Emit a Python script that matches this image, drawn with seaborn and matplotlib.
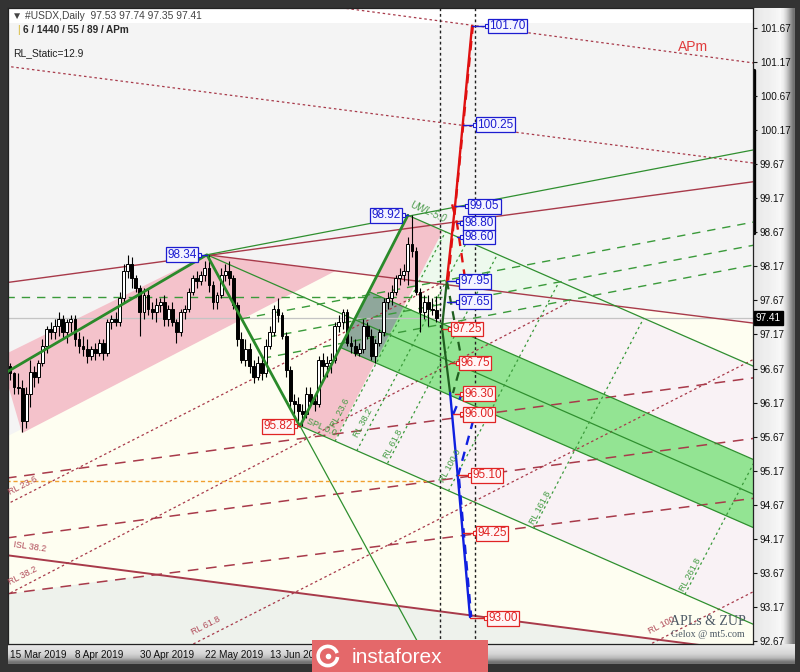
import numpy as np
import pandas as pd
import seaborn as sns
import matplotlib.pyplot as plt
import matplotlib.transforms as mtransforms
from matplotlib.patches import Polygon, Arc

sns.set_style('white')
plt.rcParams['font.family'] = ['Liberation Sans', 'DejaVu Sans']

# ---- #USDX daily candles, bar 0 = 15 Mar 2019 ... bar 105 = 9 Aug 2019
opens = [96.70, 96.60, 96.40, 96.38, 95.90, 96.30, 96.62, 96.55, 96.75, 97.00,
         97.25, 97.20, 97.30, 97.40, 97.20, 97.35, 97.40, 97.10, 97.00, 96.95,
         96.85, 96.95, 96.90, 97.05, 96.90, 97.35, 97.40, 97.35, 97.70, 98.10,
         98.20, 98.00, 97.85, 97.50, 97.75, 97.55, 97.50, 97.60, 97.65, 97.40,
         97.55, 97.35, 97.20, 97.50, 97.55, 97.80, 98.00, 97.95, 98.05, 98.15,
         97.90, 97.65, 97.75, 98.05, 98.10, 98.00, 97.60, 97.10, 96.80, 96.95,
         96.70, 96.55, 96.75, 96.60, 97.00, 97.20, 97.55, 97.45, 97.15, 96.65,
         96.20, 96.15, 96.05, 96.00, 96.30, 96.20, 96.15, 96.80, 96.70, 96.75,
         96.80, 97.30, 97.35, 97.50, 97.05, 97.00, 96.90, 96.95, 97.30, 97.15,
         96.85, 97.05, 97.20, 97.65, 97.70, 97.80, 98.00, 98.05, 98.10, 98.50,
         98.40, 97.80, 97.50, 97.65, 97.55, 97.53]
highs = [96.75, 96.62, 96.60, 96.50, 96.40, 96.80, 96.70, 96.80, 97.10, 97.30,
         97.35, 97.40, 97.50, 97.45, 97.40, 97.45, 97.45, 97.20, 97.15, 97.10,
         97.00, 97.05, 97.10, 97.10, 97.40, 97.45, 97.50, 97.80, 98.20, 98.33,
         98.30, 98.05, 97.90, 97.85, 97.85, 97.65, 97.70, 97.70, 97.75, 97.60,
         97.65, 97.40, 97.55, 97.60, 97.85, 98.05, 98.10, 98.10, 98.25, 98.34,
         97.95, 97.80, 98.15, 98.20, 98.25, 98.05, 97.65, 97.20, 97.10, 97.05,
         96.80, 96.85, 96.85, 97.10, 97.30, 97.60, 97.70, 97.50, 97.20, 96.70,
         96.30, 96.25, 96.15, 96.40, 96.40, 96.30, 96.85, 96.90, 96.85, 96.90,
         97.35, 97.45, 97.55, 97.55, 97.15, 97.10, 97.05, 97.40, 97.35, 97.25,
         97.10, 97.25, 97.70, 97.80, 97.90, 98.05, 98.15, 98.20, 98.60, 98.92,
         98.45, 97.85, 97.75, 97.75, 97.70, 97.74]
lows = [96.50, 96.30, 96.30, 95.74, 95.80, 96.10, 96.40, 96.45, 96.70, 96.90,
        97.10, 97.10, 97.15, 97.10, 97.05, 97.20, 97.00, 96.90, 96.85, 96.75,
        96.80, 96.80, 96.85, 96.80, 96.85, 97.25, 97.30, 97.30, 97.65, 98.00,
        97.85, 97.80, 97.15, 97.40, 97.45, 97.40, 97.35, 97.50, 97.30, 97.30,
        97.30, 97.05, 97.15, 97.40, 97.50, 97.75, 97.85, 97.90, 97.95, 97.80,
        97.55, 97.55, 97.70, 97.95, 97.90, 97.55, 97.00, 96.75, 96.70, 96.60,
        96.45, 96.50, 96.50, 96.55, 96.95, 97.15, 97.35, 97.10, 96.55, 96.10,
        96.00, 95.90, 95.82, 95.95, 96.10, 96.05, 96.10, 96.55, 96.55, 96.60,
        96.75, 97.20, 97.25, 97.00, 96.90, 96.85, 96.85, 96.90, 97.10, 96.80,
        96.75, 97.00, 97.15, 97.55, 97.60, 97.75, 97.90, 97.95, 97.90, 98.30,
        97.75, 97.20, 97.40, 97.30, 97.45, 97.35]
closes = [96.60, 96.40, 96.38, 95.90, 96.30, 96.62, 96.55, 96.75, 97.00, 97.25,
          97.20, 97.30, 97.40, 97.20, 97.35, 97.40, 97.10, 97.00, 96.95, 96.85,
          96.95, 96.90, 97.05, 96.90, 97.35, 97.40, 97.35, 97.70, 98.10, 98.20,
          98.00, 97.85, 97.50, 97.75, 97.55, 97.50, 97.60, 97.65, 97.40, 97.55,
          97.35, 97.20, 97.50, 97.55, 97.80, 98.00, 97.95, 98.05, 98.15, 97.90,
          97.65, 97.75, 98.05, 98.10, 98.00, 97.60, 97.10, 96.80, 96.95, 96.70,
          96.55, 96.75, 96.60, 97.00, 97.20, 97.55, 97.45, 97.15, 96.65, 96.20,
          96.15, 96.05, 96.00, 96.30, 96.20, 96.15, 96.80, 96.70, 96.75, 96.80,
          97.30, 97.35, 97.50, 97.05, 97.00, 96.90, 96.95, 97.30, 97.15, 96.85,
          97.05, 97.20, 97.65, 97.70, 97.80, 98.00, 98.05, 98.10, 98.50, 98.40,
          97.80, 97.50, 97.65, 97.55, 97.53, 97.41]
last_price = 97.41

date_ticks = [0, 16, 32, 48, 64]
date_labels = ['15 Mar 2019', '8 Apr 2019', '30 Apr 2019', '22 May 2019', '13 Jun 2019']
price_ticks = [92.67, 93.17, 93.67, 94.17, 94.67, 95.17, 95.67, 96.17, 96.67, 97.17,
               97.67, 98.17, 98.67, 99.17, 99.67, 100.17, 100.67, 101.17, 101.67]

# ---- ZUP zigzag pivots (bar, price)
zup_bars = [-1, 48.5, 71.4, 98.0]
zup_prices = [96.61, 98.34, 95.82, 98.92]

# ---- zones (bar, price polygons)
ivory_zone = [(-0.5, 95.68), (80.05, 98.10), (105.9, 97.91), (105.9, 94.93),
              (183.5, 92.92), (183.5, 92.5), (-0.5, 92.5)]
greyish_zone = [(-0.5, 93.36), (35.5, 93.65), (168, 92.62), (-0.5, 92.5)]
blush_zone = [(95.44, 97.41), (183.5, 97.41), (183.5, 92.92), (80.05, 95.60)]
mint_zone = [(106.65, 98.70), (149.0, 97.59), (100.2, 97.95)]
cream_zone = [(149.0, 97.59), (183.5, 97.34), (183.5, 96.71)]
pink_channel = [(-0.5, 96.90), (48.5, 98.34), (80.05, 98.10), (2.96, 95.72), (-0.5, 96.43)]
pink_fork = [(71.4, 95.83), (98.0, 98.92), (106.65, 98.70), (80.05, 95.62)]
green_band = [(88.35, 97.80), (183.5, 95.32), (183.5, 94.32), (81.35, 96.98)]

# ---- trend lines
red_solid = [[(-1, 97.93), (184, 99.42)],
             [(48.5, 98.34), (184, 97.33)]]
red_isl = [[(-1, 93.93), (184, 92.50)]]
red_dashed = [[(-1, 95.06), (184, 96.54)],
              [(-1, 94.18), (184, 95.65)],
              [(-1, 93.36), (184, 94.77)]]
red_dotted = [[(-1, 101.11), (184, 99.68)],
              [(70, 102.06), (184, 101.15)],
              [(-1, 94.67), (105.7, 97.91)],
              [(-1, 93.34), (137.9, 97.65)],
              [(44, 92.59), (184, 96.83)],
              [(157, 92.60), (184, 93.42)]]
green_solid = [[(48.5, 98.34), (184, 99.89)],
               [(48.5, 98.34), (184, 94.80)],
               [(98.0, 98.92), (184, 96.68)],
               [(71.4, 95.83), (184, 92.89)],
               [(71.4, 95.83), (101, 92.59)],
               [(88.35, 97.80), (184, 95.31)],
               [(81.35, 96.98), (184, 94.31)]]
green_dashed = [[(-1, 97.72), (106.4, 97.72)],
                [(57.1, 97.40), (184, 98.83)],
                [(59.9, 97.09), (184, 98.49)],
                [(62.3, 96.82), (184, 98.20)]]
green_dotted = [[(80.05, 95.60), (107.3, 98.68)],
                [(85.4, 95.46), (112.6, 98.54)],
                [(93.0, 95.28), (120.0, 98.34)],
                [(107.96, 94.87), (135.3, 97.95)],
                [(129.0, 94.32), (156.1, 97.41)],
                [(166.2, 93.35), (193.3, 96.43)]]
orange_level = [[(-1, 95.02), (102.5, 95.02)]]
time_marks = [105.9, 114.5]

# ---- projection paths
proj_green = [[(106.4, 97.27), (107.6, 97.96)], [(106.4, 97.27), (108.4, 96.31)]]
proj_green_dash = [[(107.6, 97.96), (111.3, 96.78), (109.1, 96.31)]]
proj_red = [[(107.6, 97.96), (109.6, 99.05), (113.8, 101.70)]]
proj_red_dash = [[(107.9, 97.96), (114.0, 101.70)],
                 [(108.9, 99.08), (110.1, 98.80), (112.1, 97.98)]]
proj_blue = [[(108.4, 96.31), (110.3, 95.08), (113.3, 93.02)]]
proj_blue_dash = [[(109.1, 95.99), (111.3, 96.30)],
                  [(110.3, 95.08), (114.5, 96.00)],
                  [(110.6, 95.05), (113.6, 93.02)]]

# ---- price tags
blue_prices = [101.70, 100.25, 99.05, 98.80, 98.60, 97.95, 97.65]
blue_box_bars = [117.5, 114.5, 112.6, 111.3, 111.3, 110.3, 110.3]
blue_pt_bars = [113.8, 111.6, 109.6, 110.1, 110.1, 107.6, 107.6]
red_prices = [97.25, 96.75, 96.30, 96.00, 95.10, 94.25, 93.00]
red_box_bars = [108.4, 110.3, 111.3, 111.3, 113.3, 114.5, 117.2]
red_pt_bars = [106.4, 108.4, 109.6, 109.1, 110.3, 111.6, 113.3]
pivot_prices = [98.92, 98.34, 95.82]
pivot_box_bars = [96.8, 46.6, 70.2]
pivot_pt_bars = [98.0, 48.5, 71.4]
pivot_is_high = [True, True, False]

# ---- line captions (text, bar, price, rotation)
red_captions = [('RL 23.6', 3.2, 94.95, 27), ('ISL 38.2', 4.9, 94.05, -8),
                ('RL 38.2', 3.2, 93.62, 27), ('RL 61.8', 48.3, 92.89, 27),
                ('RL 100', 160.6, 92.90, 27)]
green_captions = [('RL 23.6', 81.3, 96.02, 62), ('RL 38.2', 86.9, 95.87, 62),
                  ('SPL 0.0', 76.8, 95.81, -24), ('RL 61.8', 94.3, 95.56, 62),
                  ('RL 100.0', 108.4, 95.24, 62), ('RL 161.8', 130.5, 94.62, 62),
                  ('RL 261.8', 167.5, 93.64, 62)]

RED = '#a83a4a'
GREEN = '#2f8f2f'
BLUE_TXT = '#1c1cd0'
RED_TXT = '#e02424'

fig = plt.figure(figsize=(8, 6.72), dpi=100, facecolor='#333333')

# window frame: price scale + time scale panels
frame = fig.add_axes([0, 0, 1, 1], zorder=0)
grad_r = np.array([[0.90, 0.91, 0.92, 0.93, 0.93, 0.94, 0.95, 0.96, 0.97, 0.92, 0.80, 0.62, 0.45]])
frame.imshow(grad_r, cmap='gray', vmin=0, vmax=1, extent=(753, 795, 664, 8),
             aspect='auto', interpolation='bilinear')
grad_b = np.array([[0.90], [0.87], [0.83], [0.72], [0.45]])
frame.imshow(grad_b, cmap='gray', vmin=0, vmax=1, extent=(8, 795, 664, 644),
             aspect='auto', interpolation='bilinear')
frame.plot([754, 754], [70, 233], color='black', lw=2.4)
frame.set_xlim(0, 800)
frame.set_ylim(672, 0)
frame.axis('off')

ax = fig.add_axes([8 / 800, 28 / 672, 745 / 800, 636 / 672], zorder=2)
ax.set_facecolor('#f4f4f4')
ax.set_xlim(-0.49, 183.0)
ax.set_ylim(92.6245, 101.9637)

ax.axhspan(101.75, 102.1, color='white', zorder=0.1, lw=0)
for poly, col, z in [(ivory_zone, '#fefef1', 0.2), (greyish_zone, '#eef2ec', 0.25),
                     (blush_zone, '#f9f2f5', 0.3), (mint_zone, '#edf9ed', 0.35),
                     (cream_zone, '#fefef1', 0.35), (pink_channel, '#f4c2cb', 1.0)]:
    ax.add_patch(Polygon(poly, closed=True, fc=col, ec='none', zorder=z))
fork = Polygon(pink_fork, closed=True, fc='#f4c2cb', ec='none', zorder=1.0)
ax.add_patch(fork)
ax.add_patch(Polygon(green_band, closed=True, fc='#93e493', ec='none', zorder=1.1))
overlap = Polygon(green_band, closed=True, fc='#8fa79b', ec='none', zorder=1.2)
ax.add_patch(overlap)
overlap.set_clip_path(fork)

ax.axhline(last_price, color='#c4c4c4', lw=0.9, zorder=1.5)


def draw(segments, **kw):
    for seg in segments:
        xs, ys = zip(*seg)
        ax.plot(xs, ys, **kw)


draw(red_solid, color=RED, lw=1.0, zorder=2)
draw(red_isl, color=RED, lw=1.4, zorder=2)
draw(red_dashed, color=RED, lw=1.1, ls=(0, (7, 5)), zorder=2)
draw(red_dotted, color=RED, lw=0.9, ls=(0, (2, 2.2)), zorder=2)
draw(green_solid, color=GREEN, lw=0.9, zorder=2)
draw(green_dashed, color='#3a9a3a', lw=1.0, ls=(0, (6, 5)), zorder=2)
draw(green_dotted, color='#3a9a3a', lw=0.9, ls=(0, (2, 2.5)), zorder=2)
draw(orange_level, color='#f0a030', lw=1.0, ls=(0, (3, 2)), zorder=2)
for t in time_marks:
    ax.axvline(t, color='#202020', lw=1.0, ls=(0, (2, 2)), zorder=2.1)

# candles
df = pd.DataFrame({'open': opens, 'high': highs, 'low': lows, 'close': closes})
df['bar'] = df.index
body_lo = np.minimum(df['open'], df['close'])
body_h = np.maximum((df['close'] - df['open']).abs(), 0.012)
fills = np.where(df['close'] >= df['open'], 'white', 'black')
ax.vlines(df['bar'], df['low'], df['high'], color='black', lw=0.8, zorder=3)
ax.bar(df['bar'], body_h, bottom=body_lo, width=0.7, color=fills,
       edgecolor='black', linewidth=0.7, zorder=3.1)

sns.lineplot(x=zup_bars, y=zup_prices, sort=False, estimator=None, ax=ax,
             color='#2a8a2a', lw=2.0, zorder=3.5)

# projections
draw(proj_green, color='#1f5f1f', lw=1.6, zorder=4)
draw(proj_green_dash, color='#1f5f1f', lw=1.6, ls=(0, (4, 3)), zorder=4)
draw(proj_red, color='#e01010', lw=1.7, zorder=4)
draw(proj_red_dash, color='#e01010', lw=1.7, ls=(0, (4, 3)), zorder=4)
draw(proj_blue, color='#1020e0', lw=1.7, zorder=4)
draw(proj_blue_dash, color='#1020e0', lw=1.7, ls=(0, (4, 3)), zorder=4)


def tag(x_pt, x_box, price, color, face, to_left=False):
    ax.plot([x_pt, x_box], [price, price], color=color, lw=1.0, zorder=5)
    ax.plot([x_box], [price], marker='s', ms=3, mfc='white', mec=color, mew=0.8, zorder=5.1)
    off = -0.6 if to_left else 0.6
    ax.text(x_box + off, price, f'{price:.2f}', ha='right' if to_left else 'left',
            va='center', color=color, fontsize=8.5, zorder=5.2,
            bbox=dict(boxstyle='square,pad=0.12', fc=face, ec=color, lw=0.9))


for p, xb, xp in zip(blue_prices, blue_box_bars, blue_pt_bars):
    tag(xp, xb, p, BLUE_TXT, '#f4f4ff')
for p, xb, xp in zip(red_prices, red_box_bars, red_pt_bars):
    tag(xp, xb, p, RED_TXT, '#fff6f6')
for p, xb, xp, hi in zip(pivot_prices, pivot_box_bars, pivot_pt_bars, pivot_is_high):
    tag(xp, xb, p, BLUE_TXT if hi else RED_TXT, '#f4f4ff' if hi else '#fff6f6', to_left=True)

for txt, bx, py, rot in red_captions:
    ax.text(bx, py, txt, color='#b04a58', fontsize=6.5, rotation=rot,
            ha='center', va='center', zorder=4.5)
for txt, bx, py, rot in green_captions:
    ax.text(bx, py, txt, color='#3f9a3f', fontsize=6.5, rotation=rot,
            ha='center', va='center', zorder=4.5)
ax.text(103.0, 98.97, 'UWL-5.0', color='#4a9a4a', fontsize=7, rotation=-24,
        style='italic', ha='center', va='center', zorder=4.5)
ax.text(168.2, 101.39, 'APm', color='#e03c3c', fontsize=10, ha='center', va='center', zorder=4.5)
ax.text(171.9, 92.96, 'APLs & ZUP', color='#4d5a66', fontsize=10,
        family=['Liberation Serif', 'DejaVu Serif'], ha='center', va='center', zorder=4.5)
ax.text(171.9, 92.77, 'Gelox @ mt5.com', color='#4d5a66', fontsize=7.2,
        family=['Liberation Serif', 'DejaVu Serif'], ha='center', va='center', zorder=4.5)

# header
ax.text(0.0054, 0.987, '\u25bc #USDX,Daily  97.53 97.74 97.35 97.41', transform=ax.transAxes,
        fontsize=7.4, color='#444444', va='center', ha='left', zorder=6)
ax.text(0.012, 0.9654, '|', transform=ax.transAxes, fontsize=7.4, color='#d8b830',
        va='center', ha='left', zorder=6)
ax.text(0.0195, 0.9654, '6 / 1440 / 55 / 89 / APm', transform=ax.transAxes, fontsize=7.2,
        color='#2a2a2a', fontweight='bold', va='center', ha='left', zorder=6)
ax.text(0.0067, 0.9292, 'RL_Static=12.9', transform=ax.transAxes, fontsize=7.4,
        color='#202020', va='center', ha='left', zorder=6)

# scales
ax.yaxis.tick_right()
ax.set_yticks(price_ticks)
ax.set_yticklabels([f'{v:.2f}' for v in price_ticks])
ax.set_xticks(date_ticks)
ax.set_xticklabels(date_labels, ha='left')
ax.tick_params(axis='y', direction='out', length=3, width=0.8, pad=2, labelsize=7.2, colors='#111111')
ax.tick_params(axis='x', direction='out', length=3, width=0.8, pad=1.5, labelsize=7.2, colors='#111111')
ax.set_xlabel('')
ax.set_ylabel('')
for s in ax.spines.values():
    s.set_color('#222222')
    s.set_linewidth(0.9)

tr = mtransforms.blended_transform_factory(ax.transAxes, ax.transData)
ax.text(1.004, last_price, f'{last_price:.2f}', transform=tr, ha='left', va='center',
        color='white', fontsize=7.2, clip_on=False, zorder=7,
        bbox=dict(boxstyle='square,pad=0.18', fc='black', ec='black'))

# broker badge
logo = fig.add_axes([312 / 800, 0, 176 / 800, 32 / 672], zorder=5)
logo.set_facecolor('#e4686a')
logo.set_xticks([])
logo.set_yticks([])
for s in logo.spines.values():
    s.set_visible(False)
logo.set_xlim(0, 1)
logo.set_ylim(0, 1)
logo.add_patch(Arc((0.09, 0.5), 0.11, 0.6, theta1=60, theta2=330, color='white', lw=2.6))
logo.plot([0.09], [0.5], 'o', color='white', ms=3)
logo.text(0.225, 0.46, 'instaforex', color='white', fontsize=15, ha='left', va='center')

fig.savefig('out.png', dpi=100, facecolor=fig.get_facecolor())
